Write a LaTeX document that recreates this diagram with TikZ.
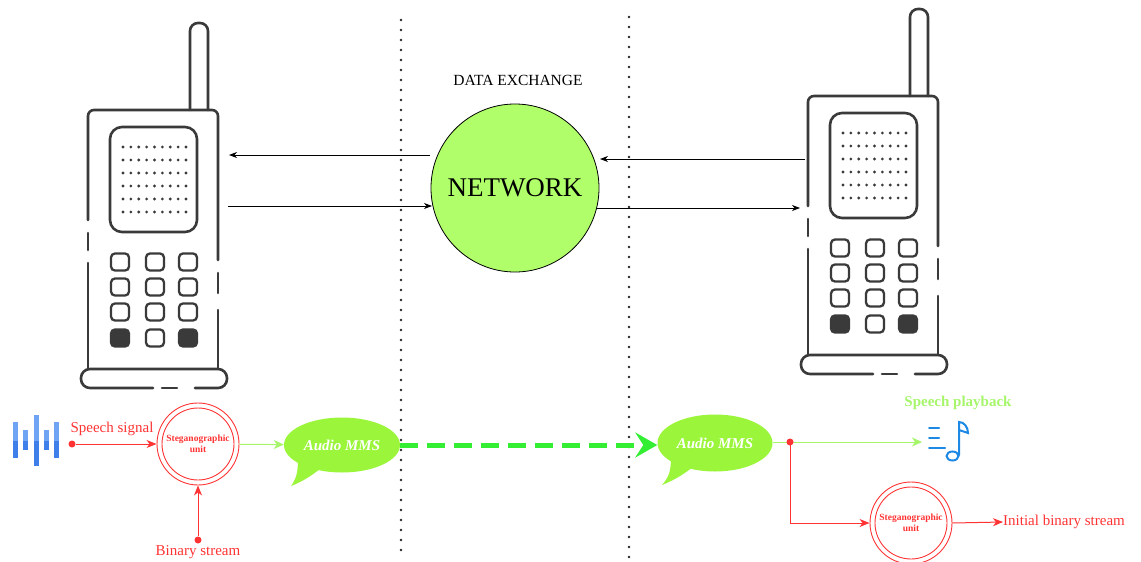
\documentclass[tikz,border=0pt]{standalone}
\usepackage{fontspec}
\setmainfont{Liberation Serif}
\usetikzlibrary{arrows.meta,shapes.geometric,calc}

\definecolor{phonegray}{HTML}{3A3A3A}
\definecolor{redc}{HTML}{FF3333}
\definecolor{lightgreen}{HTML}{A6F56B}
\definecolor{bubblegreen}{HTML}{9BF53B}
\definecolor{netgreen}{HTML}{B0FF6A}
\definecolor{dashgreen}{HTML}{33EE33}
\definecolor{waveblue}{HTML}{3F7FEA}
\definecolor{wavelight}{HTML}{6FA3F4}
\definecolor{noteblue}{HTML}{1E88E5}

\tikzset{
  % walkie-talkie handset, drawn in pixel units from its own origin
  handset/.pic={
    \begin{scope}[draw=phonegray, fill=phonegray, line width=2.6pt, line cap=round]
      % antenna
      \draw[rounded corners=8pt] (190,110) -- (190,23) -- (208,23) -- (208,110);
      % body outline with the small breaks on the sides
      \draw[rounded corners=6pt] (88,220) -- (88,110) -- (218,110) -- (218,260);
      \draw (88,233) -- (88,250);
      \draw (88,263) -- (88,369);
      \draw (218,273) -- (218,293);
      \draw (218,310) -- (218,369);
      % foot
      \draw[rounded corners=9pt] (153,388) -- (81,388) -- (81,369) -- (227,369) -- (227,388) -- (195,388);
      \draw (162,388) -- (177,388);
      % speaker grille
      \draw[rounded corners=12pt] (110,127) rectangle (197,232);
      \foreach \i in {0,...,8}
        \foreach \j in {0,...,5}
          \fill (123+\i*7.875, 147+\j*13) circle[radius=1.6pt];
      % keypad
      \foreach \x in {120,155,188}
        \foreach \y in {262,287,312}
          \draw[rounded corners=4pt, line width=2.3pt] (\x-9,\y-8.5) rectangle (\x+9,\y+8.5);
      \filldraw[rounded corners=4pt, line width=2.3pt] (111,329.5) rectangle (129,346.5);
      \draw[rounded corners=4pt, line width=2.3pt] (146,329.5) rectangle (164,346.5);
      \filldraw[rounded corners=4pt, line width=2.3pt] (179,329.5) rectangle (197,346.5);
    \end{scope}
  },
  thinarrow/.style={draw=black, line width=0.8pt, -{Stealth[length=8pt,width=6pt,inset=2.5pt]}},
  redarrow/.style={draw=redc, line width=1pt, -{Stealth[length=10pt,width=8pt,inset=3pt]}},
  greenarrow/.style={draw=lightgreen, line width=1pt, -{Stealth[length=10pt,width=9pt,inset=3pt]}},
  stegunit/.style={circle, draw=redc, line width=0.9pt, minimum size=82pt, inner sep=0pt,
    text=redc, font=\fontsize{9.5}{10.5}\selectfont\bfseries, align=center},
  mmsbubble/.style={ellipse, fill=bubblegreen, inner sep=0pt, text=white,
    font=\fontsize{15}{17}\selectfont\bfseries\itshape},
  reddot/.style={circle, fill=redc, minimum size=7pt, inner sep=0pt},
  redlabel/.style={text=redc, font=\fontsize{15}{17}\selectfont, inner sep=0pt},
  separator/.style={draw=black!85, line width=2.6pt, line cap=round, dash pattern=on 0pt off 10pt},
}

% tail of a speech bubble: node name, tip offset x, tip offset y
\newcommand\mmstail[3]{%
  \fill[bubblegreen] ($(#1.center)+(-44,14)$)
    .. controls ($(#1.center)+(-44,28)$) and ($(#1.center)+(-46,34)$) .. ($(#1.center)+(#2,#3)$)
    .. controls ($(#1.center)+(-38,36)$) and ($(#1.center)+(-30,30)$) .. ($(#1.center)+(-22,24)$) -- cycle;}

\begin{document}
\begin{tikzpicture}[x=1pt, y=-1pt]
\useasboundingbox (0,0) rectangle (1141,562);

% dotted separators
\draw[separator] (401,20) -- (401,556);
\draw[separator] (629,17) -- (629,558);

% handsets
\pic at (0,0) {handset};
\pic at (720,-14) {handset};

% network
\node[font=\fontsize{15.5}{17}\selectfont, inner sep=0pt] (dx) at (518,80) {DATA EXCHANGE};
\node[circle, draw=black, line width=0.8pt, fill=netgreen, minimum size=168pt, inner sep=0pt,
      font=\fontsize{27}{30}\selectfont] (net) at (515,188) {NETWORK};

\coordinate (lphoneIn) at (229,155);
\coordinate (lphoneOut) at (228,206);
\coordinate (netInL) at (432,206);
\coordinate (netOutL) at (430,155);
\coordinate (rphoneIn) at (800,208);
\coordinate (rphoneOut) at (805,159);
\coordinate (netInR) at (600,159);
\coordinate (netOutR) at (597,208);

\draw[thinarrow] (netOutL) -- (lphoneIn);
\draw[thinarrow] (lphoneOut) -- (netInL);
\draw[thinarrow] (rphoneOut) -- (netInR);
\draw[thinarrow] (netOutR) -- (rphoneIn);

% speech waveform icon
\foreach \x/\a/\b in {15.8/422/458, 25.8/430/450, 36.6/415/466, 46.8/430/450, 56.8/422/458} {
  \fill[wavelight] (\x-2.5,\a) rectangle (\x+2.5,440.5);
  \fill[waveblue] (\x-2.5,440.5) rectangle (\x+2.5,\b);
}

% sending side
\node[stegunit] (steg1) at (198,444) {Steganographic\\unit};
\draw[redc, line width=0.9pt] (steg1.center) circle[radius=36pt];
\node[reddot] (sdot) at (72,444) {};
\node[redlabel] (slab) at (112,429) {Speech signal};
\node[reddot] (bdot) at (198,540) {};
\node[redlabel] (blab) at (198,552) {Binary stream};
\draw[redarrow] (sdot) -- (steg1);
\draw[redarrow] (bdot) -- (steg1);

\node[mmsbubble, minimum width=116pt, minimum height=55pt] (mms1) at (342,445) {\raisebox{-4pt}{Audio MMS}};
\mmstail{mms1}{-51}{41}
\draw[greenarrow] (steg1) -- (mms1);

% receiving side
\node[mmsbubble, minimum width=115pt, minimum height=57pt] (mms2) at (715,443) {\raisebox{-5pt}{Audio MMS}};
\mmstail{mms2}{-53}{42}

% transfer of the MMS between the two sides
\draw[dashgreen, line width=5pt, dash pattern=on 18pt off 9pt,
      -{Stealth[length=22pt,width=25pt,inset=8pt]}] (mms1.east) -- (mms1.east -| mms2.west);

\node[font=\fontsize{15}{17}\selectfont\bfseries, text=lightgreen, inner sep=0pt] (playlab) at (958,403) {Speech playback};

% music note icon
\begin{scope}[draw=noteblue, line width=2pt, line cap=round]
  \draw (929,428) -- (939,428);
  \draw (929,438) -- (939,438);
  \draw (929,448) -- (945,448);
  \draw (959,455) -- (959,422) .. controls (964,422) and (968,427) .. (968,433) -- (959,430);
  \draw (952.5,456) ellipse[x radius=6pt, y radius=4.5pt];
\end{scope}
\coordinate (noteicon) at (922,442);
\coordinate (splitpt) at (790,442);

\draw[greenarrow] (mms2.east |- splitpt) -- (noteicon);

\node[stegunit] (steg2) at (911,523) {Steganographic\\unit};
\draw[redc, line width=0.9pt] (steg2.center) circle[radius=36pt];
\draw[redarrow] (splitpt) |- (steg2.west);
\node[reddot] (splitdot) at (splitpt) {};
\node[redlabel, anchor=west] (ilab) at (1003,522) {Initial binary stream};
\draw[redarrow] (steg2.east) -- (ilab.west);
\end{tikzpicture}
\end{document}
